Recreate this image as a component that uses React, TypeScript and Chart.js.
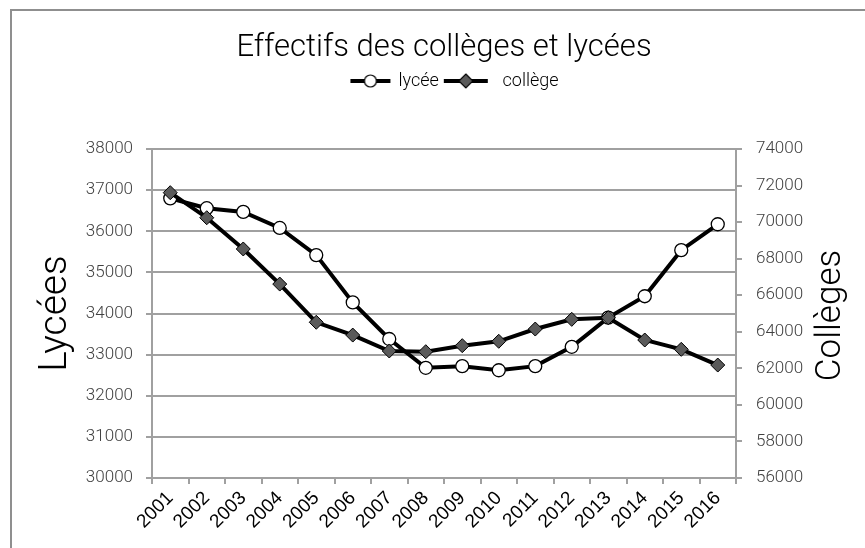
import React, { useEffect, useRef } from "react";
import { Chart, registerables } from "chart.js";

Chart.register(...registerables);

const years = ["2001", "2002", "2003", "2004", "2005", "2006", "2007", "2008", "2009", "2010", "2011", "2012", "2013", "2014", "2015", "2016"];
const lyceeValues = [36800, 36560, 36470, 36080, 35420, 34270, 33380, 32680, 32720, 32620, 32720, 33190, 33900, 34420, 35540, 36170];
const collegeValues = [71610, 70240, 68530, 66610, 64520, 63820, 62950, 62910, 63240, 63480, 64150, 64680, 64770, 63550, 63040, 62180];
const leftTicks = [30000, 31000, 32000, 33000, 34000, 35000, 36000, 37000, 38000];
const rightTicks = [56000, 58000, 60000, 62000, 64000, 66000, 68000, 70000, 72000, 74000];
const chartTitle = "Effectifs des collèges et lycées";
const seriesNames = ["lycée", "collège"];
const leftTitle = "Lycées";
const rightTitle = "Collèges";

const FONT = "Roboto, 'DejaVu Sans Condensed', sans-serif";
const GRID = "#a0a0a0";

function makeLegendIcon(kind: "circle" | "diamond"): HTMLCanvasElement {
  const c = document.createElement("canvas");
  const w = kind === "circle" ? 42 : 46;
  const h = 18;
  c.width = w;
  c.height = h;
  const ctx = c.getContext("2d")!;
  ctx.strokeStyle = "#000";
  ctx.lineWidth = 4;
  ctx.beginPath();
  ctx.moveTo(1, h / 2);
  ctx.lineTo(w - 1, h / 2);
  ctx.stroke();
  ctx.lineWidth = 1.2;
  ctx.beginPath();
  if (kind === "circle") {
    ctx.arc(w / 2, h / 2, 6, 0, Math.PI * 2);
    ctx.fillStyle = "#fff";
  } else {
    ctx.moveTo(w / 2, h / 2 - 7);
    ctx.lineTo(w / 2 + 7, h / 2);
    ctx.lineTo(w / 2, h / 2 + 7);
    ctx.lineTo(w / 2 - 7, h / 2);
    ctx.closePath();
    ctx.fillStyle = "#5a5a5a";
  }
  ctx.fill();
  ctx.stroke();
  return c;
}

const decorPlugin = {
  id: "decor",
  afterLayout(chart: any) {
    const lg = chart.legend;
    if (lg) {
      lg.left += 11;
      lg.right += 11;
    }
  },
  beforeDraw(chart: any) {
    const ctx = chart.ctx;
    ctx.save();
    ctx.strokeStyle = "#8f8f8f";
    ctx.lineWidth = 2;
    ctx.beginPath();
    ctx.moveTo(11, chart.height);
    ctx.lineTo(11, 10);
    ctx.lineTo(chart.width, 10);
    ctx.stroke();
    ctx.restore();
  },
  afterDraw(chart: any) {
    const ctx = chart.ctx;
    const { top, bottom, right } = chart.chartArea;
    ctx.save();
    ctx.translate(right + 95, (top + bottom) / 2 + 2);
    ctx.rotate(-Math.PI / 2);
    ctx.font = `300 35px ${FONT}`;
    ctx.textAlign = "center";
    ctx.textBaseline = "middle";
    ctx.fillStyle = "#000";
    ctx.fillText(rightTitle, 0, 0);
    ctx.restore();
  },
};

export default function App() {
  const ref = useRef<HTMLCanvasElement>(null);
  useEffect(() => {
    if (!ref.current) return;
    const iconCircle = makeLegendIcon("circle");
    const iconDiamond = makeLegendIcon("diamond");
    const chart = new Chart(ref.current, {
      type: "line",
      data: {
        labels: years,
        datasets: [
          {
            label: seriesNames[0],
            data: lyceeValues,
            yAxisID: "y",
            borderColor: "#000",
            borderWidth: 4,
            pointStyle: "circle",
            pointRadius: 6.5,
            pointBackgroundColor: "#fff",
            pointBorderColor: "#000",
            pointBorderWidth: 1.3,
            tension: 0,
            order: 1,
          },
          {
            label: seriesNames[1],
            data: collegeValues,
            yAxisID: "y1",
            borderColor: "#000",
            borderWidth: 4,
            pointStyle: "rectRot",
            pointRadius: 7,
            pointBackgroundColor: "#5a5a5a",
            pointBorderColor: "#000",
            pointBorderWidth: 1,
            tension: 0,
            order: 0,
          },
        ],
      },
      options: {
        responsive: false,
        animation: false,
        devicePixelRatio: 1,
        layout: { padding: 0 },
        plugins: {
          title: {
            display: true,
            text: chartTitle,
            color: "#000",
            fullSize: false,
            font: { family: FONT, size: 31, weight: 300, lineHeight: 1 },
            padding: { top: 33, bottom: 0 },
            weight: 2000,
          },
          legend: {
            display: true,
            position: "top",
            fullSize: false,
            weight: 1000,
            labels: {
              usePointStyle: true,
              pointStyleWidth: 38,
              padding: 8,
              color: "#000",
              font: { family: FONT, size: 18, weight: 300 },
              generateLabels: () => [
                { text: seriesNames[0], pointStyle: iconCircle, fillStyle: "#fff", strokeStyle: "#000", lineWidth: 0, hidden: false, datasetIndex: 0 } as any,
                { text: "  " + seriesNames[1], pointStyle: iconDiamond, fillStyle: "#5a5a5a", strokeStyle: "#000", lineWidth: 0, hidden: false, datasetIndex: 1 } as any,
              ],
            },
          },
          subtitle: {
            display: true,
            text: "",
            padding: 0,
            font: { size: 49, lineHeight: 1 },
            weight: 100,
          },
          tooltip: { enabled: false },
        },
        scales: {
          x: {
            type: "category",
            offset: true,
            grid: { display: true, drawOnChartArea: false, drawTicks: true, tickLength: 6, offset: true, color: GRID, lineWidth: 2 },
            border: { display: true, color: GRID, width: 2 },
            ticks: {
              autoSkip: false,
              minRotation: 45,
              maxRotation: 45,
              padding: 3,
              color: "#000",
              font: { family: "'Liberation Sans', sans-serif", size: 19 },
            },
            afterFit: (s: any) => {
              s.height = 70;
            },
          },
          y: {
            type: "linear",
            position: "left",
            min: leftTicks[0],
            max: leftTicks[leftTicks.length - 1],
            afterBuildTicks: (s: any) => {
              s.ticks = leftTicks.map((v) => ({ value: v }));
            },
            grid: { color: GRID, lineWidth: 2, tickLength: 6 },
            border: { display: true, color: GRID, width: 2 },
            ticks: {
              padding: 13,
              color: "#404040",
              font: { family: FONT, size: 17, weight: 300 },
              callback: (v: any) => String(v),
            },
            title: {
              display: true,
              text: leftTitle,
              color: "#000",
              font: { family: FONT, size: 39, weight: 300, lineHeight: 1 },
              padding: { top: 36.5, bottom: 0 },
            },
            afterFit: (s: any) => {
              s.width = 152;
            },
          },
          y1: {
            type: "linear",
            position: "right",
            min: rightTicks[0],
            max: rightTicks[rightTicks.length - 1],
            afterBuildTicks: (s: any) => {
              s.ticks = rightTicks.map((v) => ({ value: v }));
            },
            grid: { drawOnChartArea: false, color: GRID, lineWidth: 2, tickLength: 6 },
            border: { display: true, color: GRID, width: 2 },
            ticks: {
              padding: 14,
              color: "#404040",
              font: { family: FONT, size: 17, weight: 300 },
              callback: (v: any) => String(v),
            },
            afterFit: (s: any) => {
              s.width = 129;
            },
          },
        },
      },
      plugins: [decorPlugin],
    } as any);
    return () => chart.destroy();
  }, []);
  return (
    <div style={{ position: "absolute", left: 0, top: 0, width: 865, height: 548, background: "#fff" }}>
      <canvas ref={ref} width={865} height={548} style={{ display: "block" }} />
    </div>
  );
}
